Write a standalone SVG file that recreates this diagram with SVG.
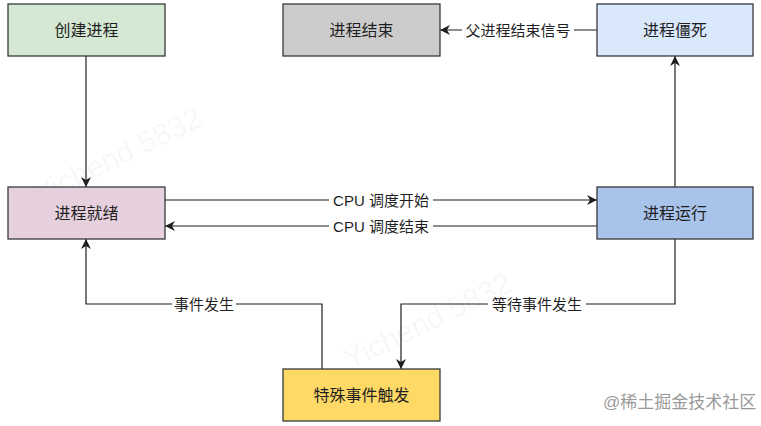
<svg xmlns="http://www.w3.org/2000/svg" width="761" height="426" viewBox="0 0 761 426">
<style>
  .box { stroke: #36393d; stroke-width: 1.3; }
  .lbl { font-family: "Liberation Sans", "Noto Sans CJK SC", sans-serif; font-size: 15px; fill: #1f1f1f; text-anchor: middle; dominant-baseline: central; }
  .nlbl { font-family: "Liberation Sans", "Noto Sans CJK SC", sans-serif; font-size: 16px; fill: #1f1f1f; text-anchor: middle; dominant-baseline: central; }
  .edge { fill: none; stroke: #1f1f1f; stroke-width: 1.2; }
  .bg { fill: #ffffff; }
  .wm { font-family: "Liberation Sans", sans-serif; font-size: 30px; fill: #000000; fill-opacity: 0.045; }
  .site { font-family: "Liberation Sans", "Noto Sans CJK SC", sans-serif; font-size: 17px; fill: #9a9a9a; dominant-baseline: central; }
</style>
<defs>
  <marker id="arr" markerUnits="userSpaceOnUse" markerWidth="12" markerHeight="10" refX="10" refY="5" orient="auto">
    <path d="M0,0 L10,5 L0,10 L3,5 z" fill="#1f1f1f"/>
  </marker>
</defs>
<rect width="761" height="426" fill="#ffffff"/>

<g id="watermarks">
  <text class="wm" transform="translate(40,205) rotate(-26)">Yichend 5832</text>
  <text class="wm" transform="translate(350,370) rotate(-26)">Yichend 5832</text>
</g>

<g id="connectors">
  <path class="edge" d="M86,56 L86,187" marker-end="url(#arr)"/>
  <path class="edge" d="M165,200 L597,200" marker-end="url(#arr)"/>
  <path class="edge" d="M597,226 L165,226" marker-end="url(#arr)"/>
  <path class="edge" d="M675,187 L675,56" marker-end="url(#arr)"/>
  <path class="edge" d="M597,30 L440,30" marker-end="url(#arr)"/>
  <path class="edge" d="M322,369 L322,304 L86,304 L86,239" marker-end="url(#arr)"/>
  <path class="edge" d="M675,239 L675,304 L401,304 L401,369" marker-end="url(#arr)"/>
  <g id="edge-labels">
    <rect class="bg" x="462" y="21" width="112" height="18"/>
    <text class="lbl" x="518" y="30">父进程结束信号</text>
    <rect class="bg" x="329" y="191" width="104" height="18"/>
    <text class="lbl" x="381" y="200">CPU 调度开始</text>
    <rect class="bg" x="329" y="217" width="104" height="18"/>
    <text class="lbl" x="381" y="226">CPU 调度结束</text>
    <rect class="bg" x="172" y="295" width="64" height="18"/>
    <text class="lbl" x="204" y="304">事件发生</text>
    <rect class="bg" x="488" y="295" width="98" height="18"/>
    <text class="lbl" x="537" y="304">等待事件发生</text>
  </g>
</g>

<g id="node-create">
  <rect class="box" x="8" y="4" width="157" height="52" fill="#d5e8d4"/>
  <text class="nlbl" x="86.5" y="30">创建进程</text>
</g>
<g id="node-end">
  <rect class="box" x="283" y="4" width="157" height="52" fill="#cccccc"/>
  <text class="nlbl" x="361.5" y="30">进程结束</text>
</g>
<g id="node-zombie">
  <rect class="box" x="597" y="4" width="156" height="52" fill="#dae8fc"/>
  <text class="nlbl" x="675" y="30">进程僵死</text>
</g>
<g id="node-ready">
  <rect class="box" x="8" y="187" width="157" height="52" fill="#e6d0de"/>
  <text class="nlbl" x="86.5" y="213">进程就绪</text>
</g>
<g id="node-running">
  <rect class="box" x="597" y="187" width="156" height="52" fill="#a9c4eb"/>
  <text class="nlbl" x="675" y="213">进程运行</text>
</g>
<g id="node-event">
  <rect class="box" x="283" y="369" width="157" height="52" fill="#ffd966"/>
  <text class="nlbl" x="361.5" y="395">特殊事件触发</text>
</g>

<text class="site" x="603" y="402">@稀土掘金技术社区</text>
</svg>
